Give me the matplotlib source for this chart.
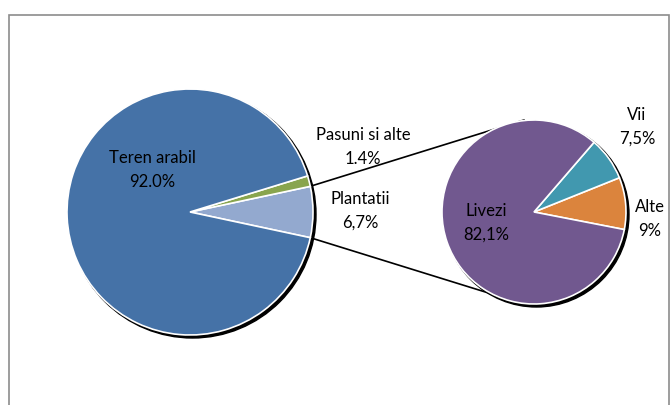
import matplotlib
matplotlib.use("Agg")
import matplotlib.pyplot as plt
from matplotlib.patches import Circle, Rectangle
import numpy as np

plt.rcParams['font.family'] = ['Lato', 'DejaVu Sans']

# Data
main_names = ['Plantatii', 'Pasuni si alte', 'Teren arabil']
main_values = [6.7, 1.4, 92.0]
main_texts = ['6,7%', '1.4%', '92.0%']
main_colors = ['#93A9CF', '#89A54E', '#4572A7']

sub_names = ['Alte', 'Vii', 'Livezi']
sub_values = [9.0, 7.5, 82.1]
sub_texts = ['9%', '7,5%', '82,1%']
sub_colors = ['#DB843D', '#4198AF', '#71588F']

W, H = 672, 405
fig = plt.figure(figsize=(W / 100, H / 100), dpi=100)
ax = fig.add_axes([0, 0, 1, 1])

def py(y):
    return H - y

# layout (pixel coords)
c1 = (190, py(212)); r1 = 123
c2 = (534, py(212)); r2 = 92
start1 = -main_values[0] / 100 * 360 / 2
start2 = -11

# frame
ax.add_patch(Rectangle((9, py(420)), 660, 405, fill=False, edgecolor='#8c8c8c', lw=1.2, zorder=0))

# shadows
for c, r in ((c1, r1), (c2, r2)):
    ax.add_patch(Circle((c[0] + 2.5, c[1] - 2.5), r + 0.5, color='black', zorder=1))

# connector lines
a_top = np.deg2rad(start1 + main_values[0] / 100 * 360)
a_bot = np.deg2rad(start1)
p_top = (c1[0] + r1 * np.cos(a_top), c1[1] + r1 * np.sin(a_top))
p_bot = (c1[0] + r1 * np.cos(a_bot), c1[1] + r1 * np.sin(a_bot))
ax.plot([p_top[0], c2[0] - 10], [p_top[1], c2[1] + r2], color='black', lw=1.2, zorder=1.5)
ax.plot([p_bot[0], c2[0] - 10], [p_bot[1], c2[1] - r2], color='black', lw=1.2, zorder=1.5)

wp = dict(edgecolor='white', linewidth=1.2)
w1, _ = ax.pie(main_values, colors=main_colors, startangle=start1, counterclock=True,
               center=c1, radius=r1, wedgeprops=wp, frame=True)
w2, _ = ax.pie(sub_values, colors=sub_colors, startangle=start2, counterclock=True,
               center=c2, radius=r2, wedgeprops=wp, frame=True)
for w in w1 + w2:
    w.set_zorder(2)

ax.set_xlim(0, W)
ax.set_ylim(0, H)
ax.set_aspect('auto')
ax.axis('off')

fs = 12
def lab(x, y, name, val):
    ax.text(x, py(y), name, ha='center', va='center', fontsize=fs, color='black', zorder=5)
    ax.text(x, py(y + 24), val, ha='center', va='center', fontsize=fs, color='black', zorder=5)

lab(152, 158, main_names[2], main_texts[2])
lab(363, 135, main_names[1], main_texts[1])
lab(360, 199, main_names[0], main_texts[0])
lab(637, 115, sub_names[1], sub_texts[1])
lab(486, 211, sub_names[2], sub_texts[2])
lab(650, 207, sub_names[0], sub_texts[0])

fig.savefig('out.png', dpi=100, facecolor='white')
